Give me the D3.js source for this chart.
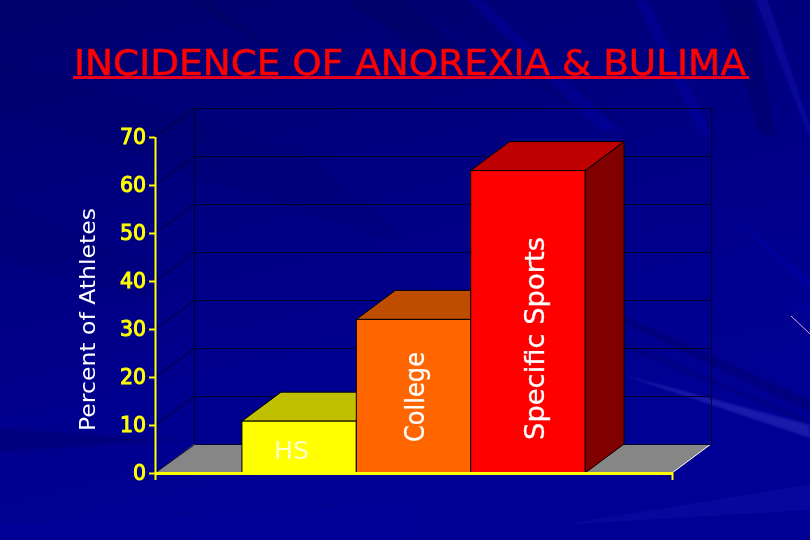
<!DOCTYPE html>
<html><head><meta charset="utf-8">
<script src="https://cdn.jsdelivr.net/npm/d3@7"></script>
<style>html,body{margin:0;padding:0;background:#00008a}svg{display:block}
text{font-family:"Comic Sans MS","DejaVu Sans",sans-serif}</style></head>
<body><svg id="c" width="810" height="540"></svg>
<script>
const categories = ["HS", "College", "Specific Sports"];
const values = [10.8, 32, 63];
const frontColors = ["#ffff00", "#ff6600", "#ff0000"];
const topColors = ["#c0c000", "#bf4d00", "#bf0000"];
const sideColors = ["#808000", "#803300", "#800000"];
const yTicks = [0, 10, 20, 30, 40, 50, 60, 70];
const titleText = "INCIDENCE OF ANOREXIA & BULIMA";
const yAxisTitle = "Percent of Athletes";
// decorative background streaks: point list, colour, opacity
const rays = [
  ["620,374 810,425 810,438", "#4a4ad8", 0.35],
  ["560,525 810,484 810,510", "#2a2ac8", 0.18],
  ["190,0 205,0 290,60 262,45", "#000050", 0.28],
  ["347,0 405,0 470,60 420,50", "#000050", 0.32],
  ["405,0 470,0 640,135 560,100", "#000060", 0.18],
  ["468,0 482,0 620,130 600,130", "#0000d8", 0.22],
  ["635,0 648,0 712,135 700,135", "#0000d8", 0.2],
  ["720,0 752,0 775,135 760,135", "#000050", 0.3],
  ["755,0 768,0 810,125 810,140", "#1818d8", 0.25],
  ["600,305 600,312 810,412 810,400", "#000050", 0.28],
  ["620,340 620,345 810,425 810,420", "#000050", 0.2],
  ["700,190 712,200 810,290 810,280", "#1818d8", 0.2],
  ["760,280 775,285 810,320 810,310", "#1818d8", 0.15],
  ["0,428 0,452 180,440", "#000060", 0.35],
  ["0,60 0,110 420,250 300,150", "#000060", 0.15],
  ["0,200 0,260 155,300 155,260", "#000060", 0.15],
  ["0,525 405,505 405,540 0,540", "#0000a8", 0.2]
];

const svg = d3.select("#c");
const defs = svg.append("defs");
const g = defs.append("linearGradient").attr("id","bg").attr("x1",0).attr("y1",0).attr("x2",0.35).attr("y2",1);
[[0,"#00006c"],[0.35,"#00007e"],[0.7,"#00008e"],[1,"#000094"]].forEach(s=>g.append("stop").attr("offset",s[0]).attr("stop-color",s[1]));
defs.append("filter").attr("id","soft").append("feGaussianBlur").attr("stdDeviation",1.2);
svg.append("rect").attr("width",810).attr("height",540).attr("fill","url(#bg)");
svg.append("g").attr("filter","url(#soft)").selectAll("polygon").data(rays).join("polygon")
  .attr("points",d=>d[0]).attr("fill",d=>d[1]).attr("opacity",d=>d[2]);
svg.append("line").attr("x1",791).attr("y1",316).attr("x2",810).attr("y2",334).attr("stroke","#e0b0e0").attr("stroke-width",1);

// chart geometry
const x0 = 155, x1 = 672, yBase = 473, yTop = 137;
const depthX = 39, depthY = -29;
const x = d3.scaleBand().domain(categories).range([x0, x1]).paddingInner(0).paddingOuter(0.76);
const y = d3.scaleLinear().domain([0, 70]).range([yBase, yTop]);

// floor
svg.append("polygon")
  .attr("points",[[x0,yBase],[x1,yBase],[x1+depthX,yBase+depthY],[x0+depthX,yBase+depthY]].join(" "))
  .attr("fill","#868686");
svg.append("line").attr("x1",x1).attr("y1",yBase).attr("x2",x1+depthX).attr("y2",yBase+depthY).attr("stroke","#ffffff");

// walls and gridlines
const grid = svg.append("g").attr("fill","none").attr("stroke","#00002c").attr("stroke-width",1);
yTicks.forEach(t=>{
  const yy = Math.round(y(t)+depthY-0.4)+0.5;
  grid.append("path").attr("d",`M${x0},${y(t)}L${x0+depthX+.5},${yy}L${x1+depthX+.5},${yy}`);
});
grid.append("line").attr("x1",x0+depthX+.5).attr("x2",x0+depthX+.5).attr("y1",y(70)+depthY).attr("y2",yBase+depthY);
grid.append("line").attr("x1",x1+depthX+.5).attr("x2",x1+depthX+.5).attr("y1",y(70)+depthY).attr("y2",yBase+depthY);

// bars
const bars = svg.append("g").selectAll("g").data(categories).join("g");
const outline = s=>s.attr("stroke","#000000").attr("stroke-width",1).attr("stroke-linejoin","miter");
bars.append("polygon").call(outline).attr("fill",(d,i)=>sideColors[i])
  .attr("points",(d,i)=>{const r=x(d)+x.bandwidth(),t=y(values[i]);return [[r,t],[r+depthX,t+depthY],[r+depthX,yBase+depthY],[r,yBase]].join(" ")});
bars.append("polygon").call(outline).attr("fill",(d,i)=>topColors[i])
  .attr("points",(d,i)=>{const l=x(d),r=l+x.bandwidth(),t=y(values[i]);return [[l,t],[r,t],[r+depthX,t+depthY],[l+depthX,t+depthY]].join(" ")});
bars.append("rect").call(outline).attr("fill",(d,i)=>frontColors[i])
  .attr("x",d=>x(d)).attr("width",x.bandwidth()).attr("y",(d,i)=>y(values[i])).attr("height",(d,i)=>yBase-y(values[i]));

// bar labels
const lab = svg.append("g").attr("fill","#ffffff").attr("stroke","#ffffff").attr("stroke-width",0.3);
lab.append("text").attr("x",274).attr("y",459).attr("font-size",25).attr("fill","#ffffc8").attr("stroke","none")
  .attr("textLength",35).attr("lengthAdjust","spacingAndGlyphs").text(categories[0]);
lab.append("text").attr("transform","translate(424,442) rotate(-90)").attr("font-size",27).attr("textLength",90).attr("lengthAdjust","spacingAndGlyphs").text(categories[1]);
lab.append("text").attr("transform","translate(544,440) rotate(-90)").attr("font-size",27).attr("textLength",203).attr("lengthAdjust","spacingAndGlyphs").text(categories[2]);

// y axis
const axis = svg.append("g").attr("transform",`translate(${x0},0)`)
  .call(d3.axisLeft(y).tickValues(yTicks).tickSize(6).tickPadding(3));
axis.selectAll("path").attr("stroke","#ffff00").attr("stroke-width",2).attr("d",`M0.5,${yTop}V${yBase+7}`);
axis.selectAll("line").attr("stroke","#ffff00").attr("stroke-width",2);
axis.selectAll("text").attr("fill","#ffff00").attr("stroke","#ffff00").attr("stroke-width",1).attr("font-size",20.5).style("font-family",'"DejaVu Sans",sans-serif');
// x axis
svg.append("line").attr("x1",x0).attr("x2",x1+1).attr("y1",yBase+.5).attr("y2",yBase+.5).attr("stroke","#ffff00").attr("stroke-width",3);
svg.append("line").attr("x1",x1+.5).attr("x2",x1+.5).attr("y1",yBase).attr("y2",yBase+7).attr("stroke","#ffff00").attr("stroke-width",2);

// axis title
svg.append("text").attr("transform","translate(95,431) rotate(-90)").attr("fill","#ffffff").attr("font-size",22)
  .attr("textLength",223).attr("lengthAdjust","spacingAndGlyphs").text(yAxisTitle);
// title
svg.append("text").attr("x",74).attr("y",75).attr("fill","#ff0000").attr("stroke","#ff0000").attr("stroke-width",0.5).attr("font-size",36)
  .attr("textLength",672).attr("lengthAdjust","spacingAndGlyphs").text(titleText);
svg.append("rect").attr("x",73).attr("y",76).attr("width",676).attr("height",3).attr("fill","#e8001c");
</script></body></html>
